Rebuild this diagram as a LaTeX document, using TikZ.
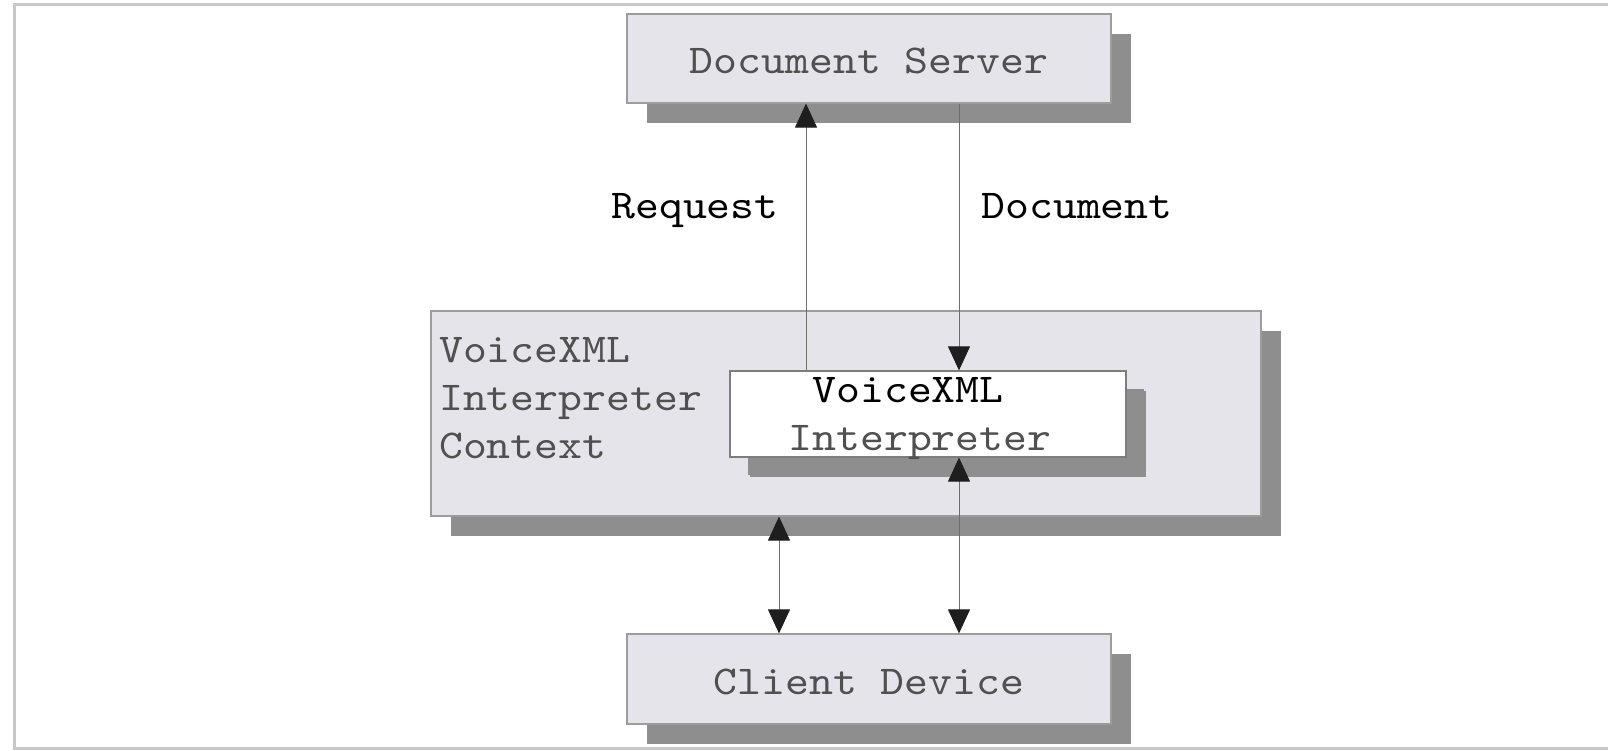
\documentclass[tikz,border=0pt]{standalone}
\usepackage{fontspec}
\newfontfamily\courier[FakeStretch=1.11]{lmmono10-regular.otf}
\usetikzlibrary{arrows.meta,shadows}

\definecolor{boxfill}{HTML}{E4E4EA}
\definecolor{boxline}{HTML}{9C9C9C}
\definecolor{shade}{HTML}{8E8E8E}
\definecolor{graytext}{HTML}{505050}
\definecolor{wire}{HTML}{6E6E6E}
\definecolor{frameline}{HTML}{C8C8C8}
\definecolor{tipcolor}{HTML}{1E1E1E}

\tikzset{
  mono/.style={font=\courier\fontsize{41}{48}\selectfont},
  panel/.style={mono, draw=boxline, line width=1.2pt, fill=boxfill,
    inner sep=0pt, text=graytext,
    drop shadow={shadow xshift=20pt, shadow yshift=-20pt, fill=shade, opacity=1}},
  whitepanel/.style={panel, fill=white, draw=boxline!80!black,
    drop shadow={shadow xshift=18pt, shadow yshift=-18pt, fill=shade, opacity=1}},
  flowlabel/.style={mono, text=black, anchor=base, inner sep=0pt},
  wireline/.style={draw=wire, line width=1pt},
  tip/.tip={Triangle[width=22pt,length=24pt,color=tipcolor]},
  oneway/.style={wireline, -tip},
  twoway/.style={wireline, tip-tip},
}

\begin{document}
\begin{tikzpicture}[x=1pt,y=-1pt]
\useasboundingbox (0,0) rectangle (1608,751);

% outer frame (open on the right)
\draw[frameline, line width=3pt] (1608,5) -- (14,5) -- (14,748) -- (1608,748);

% boxes
\node[panel, minimum width=484pt, minimum height=89pt] (ds) at (869,58.5)
  {\rule{0pt}{31pt}Document Server};
\node[panel, minimum width=830pt, minimum height=205pt] (ctx) at (846,413.5) {};
\node[mono, text=graytext, align=left, anchor=north west, inner sep=0pt] (ctxlabel) at (439,337)
  {VoiceXML\\Interpreter\\Context};
\node[whitepanel, minimum width=396pt, minimum height=86pt, inner ysep=-5pt, align=center] (vi) at (928,414)
  {\rule{0pt}{35pt}\textcolor{black}{VoiceXML}\rule{40pt}{0pt}\\Interpreter\rule{16pt}{0pt}};
\node[panel, minimum width=484pt, minimum height=90pt] (cd) at (869,679)
  {\rule{0pt}{31pt}Client Device};

% request / document flow
\draw[oneway] ([xshift=-122pt]vi.north) -- ([xshift=-122pt]vi.north |- ds.south);
\draw[oneway] ([xshift=31pt]vi.north |- ds.south) -- ([xshift=31pt]vi.north);
\node[flowlabel] (req) at (695,219) {Request};
\node[flowlabel] (doc) at (1077,219) {Document};

% client device links
\draw[twoway] ([xshift=-67pt]ctx.south) -- ([xshift=-67pt]ctx.south |- cd.north);
\draw[twoway] ([xshift=31pt]vi.south) -- ([xshift=31pt]vi.south |- cd.north);
\end{tikzpicture}
\end{document}
